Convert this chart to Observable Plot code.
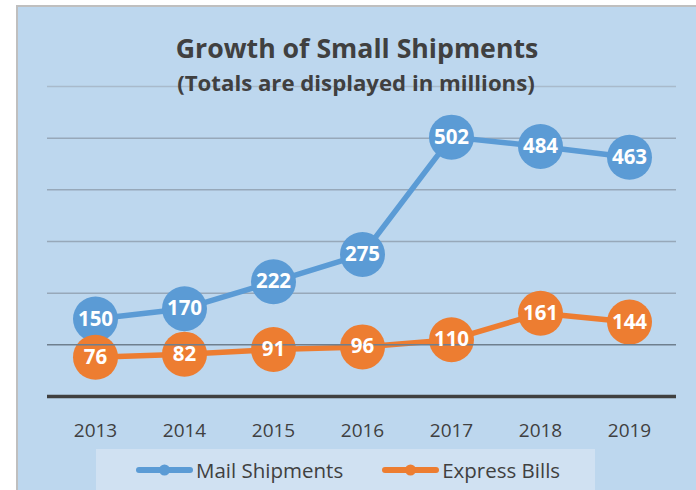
<!DOCTYPE html>
<html>
<head>
<meta charset="utf-8">
<script src="https://cdn.jsdelivr.net/npm/d3@7"></script>
<script src="https://cdn.jsdelivr.net/npm/@observablehq/plot@0.6"></script>
<style>
  html, body { margin: 0; padding: 0; background: #fff; }
  #wrap { position: relative; width: 696px; height: 490px; overflow: hidden; font-family: "Open Sans", sans-serif; }
  #panel { position: absolute; left: 16px; top: 5px; width: 680px; height: 485px; background: #BDD7EE;
           border-left: 2px solid #BFBFBF; border-top: 2px solid #BFBFBF; box-sizing: border-box; }
  #chart { position: absolute; left: 0; top: 0; }
  #legend { position: absolute; left: 96px; top: 449px; width: 499px; height: 41px; background: #D0E1F2;
            display: flex; align-items: center; box-sizing: border-box; padding-left: 40px; white-space: nowrap; }
  .item { display: flex; align-items: center; flex: none; margin-right: 39px; font-size: 20.5px; color: #404040; white-space: nowrap; }
  .item svg { display: block; margin-right: 3px; flex: none; }
</style>
</head>
<body>
<div id="wrap">
  <div id="panel"></div>
  <div id="chart"></div>
  <div id="legend"></div>
</div>
<script>
const years = ["2013", "2014", "2015", "2016", "2017", "2018", "2019"];
const mailShipments = [150, 170, 222, 275, 502, 484, 463];
const expressBills = [76, 82, 91, 96, 110, 161, 144];
const seriesNames = ["Mail Shipments", "Express Bills"];
const seriesColors = ["#5B9BD5", "#ED7D31"];
const yTicks = [100, 200, 300, 400, 500, 600];
const title = "Growth of Small Shipments";
const subtitle = "(Totals are displayed in millions)";

const mail = years.map((y, i) => ({year: y, value: mailShipments[i]}));
const express = years.map((y, i) => ({year: y, value: expressBills[i]}));

function seriesMarks(data, color) {
  return [
    Plot.line(data, {x: "year", y: "value", stroke: color, strokeWidth: 5.5}),
    Plot.dot(data, {x: "year", y: "value", r: 22.5, fill: color, stroke: "none"})
  ];
}
function labelMarks(data) {
  return Plot.text(data, {x: "year", y: "value", text: d => String(d.value), fill: "white",
    fontSize: 20.5, fontWeight: "bold"});
}

const plot = Plot.plot({
  width: 696,
  height: 490,
  marginTop: 86,
  marginBottom: 94,
  marginLeft: 47,
  marginRight: 20,
  style: {background: "transparent", fontFamily: "'Open Sans', sans-serif"},
  x: {type: "point", domain: years, padding: 0.5, label: null},
  y: {domain: [0, 600], axis: null},
  marks: [
    Plot.ruleY(yTicks.filter(t => t !== 100 && t !== 600), {stroke: "#97A8B9", strokeWidth: 1.5}),
    Plot.ruleY([600], {stroke: "#A9BACB", strokeWidth: 1.5}),
    ...seriesMarks(mail, seriesColors[0]),
    labelMarks(mail),
    ...seriesMarks(express, seriesColors[1]),
    Plot.ruleY([100], {stroke: "#6F7F8E", strokeWidth: 1.5}),
    labelMarks(express),
    Plot.ruleY([0], {stroke: "#404040", strokeWidth: 3.5}),
    Plot.axisX({tickSize: 0, tickPadding: 27, fontSize: 19, color: "#404040", label: null}),
    Plot.text([title], {frameAnchor: "top", dx: -5, dy: -29, lineAnchor: "bottom",
      fontSize: 26.7, fontWeight: "bold", fill: "#404040"}),
    Plot.text([subtitle], {frameAnchor: "top", dx: -6, dy: 4.5, lineAnchor: "bottom",
      fontSize: 22.2, fontWeight: "bold", fill: "#404040"})
  ]
});
document.getElementById("chart").appendChild(plot);

const legend = document.getElementById("legend");
seriesNames.forEach((name, i) => {
  const item = document.createElement("div");
  item.className = "item";
  item.innerHTML = `<svg width="57" height="12"><line x1="3" y1="6" x2="54" y2="6" stroke="${seriesColors[i]}" stroke-width="6" stroke-linecap="round"/><circle cx="28.5" cy="6" r="5.5" fill="${seriesColors[i]}"/></svg><span>${name}</span>`;
  legend.appendChild(item);
});
</script>
</body>
</html>
